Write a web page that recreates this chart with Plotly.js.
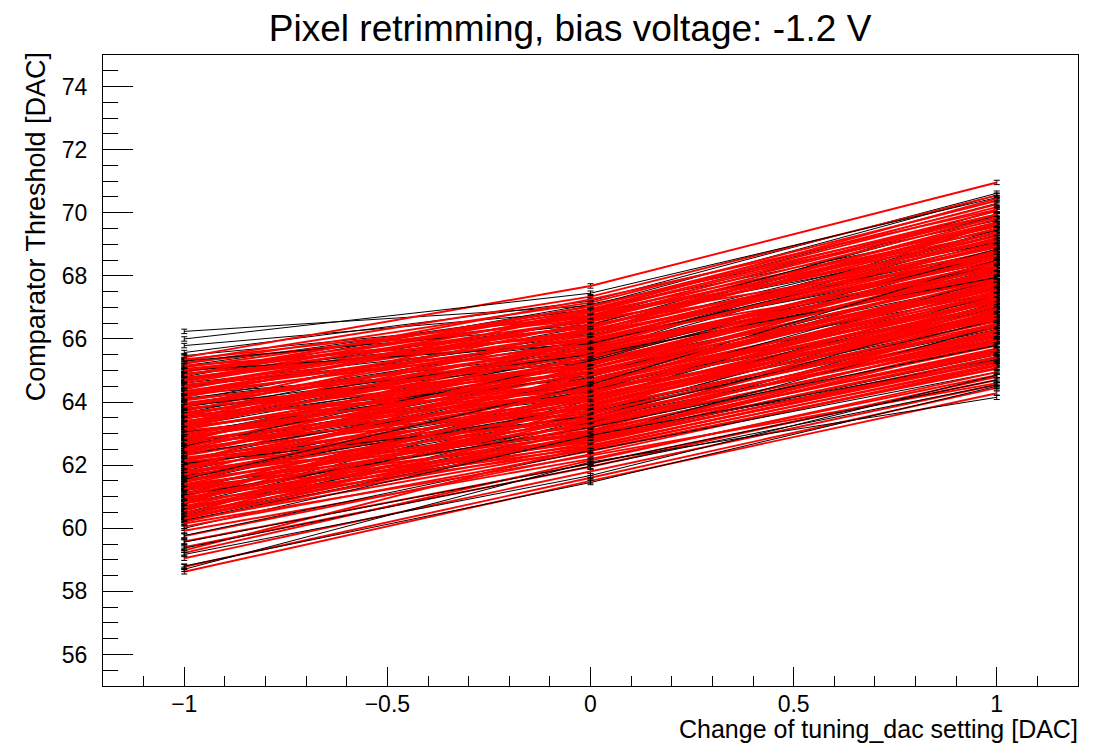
<!DOCTYPE html>
<html>
<head>
<meta charset="utf-8">
<script src="https://cdn.plot.ly/plotly-3.0.1.min.js"></script>
<style>html,body{margin:0;padding:0;background:#fff;}#chart{width:1107px;height:743px;}</style>
</head>
<body>
<div id="chart"></div>
<script>
// tuning_dac change settings (x positions of every pixel scan)
const dacSteps = [-1, 0, 1];

// Thresholds per pixel [at -1, 0, +1], after retrimming (red)
const redPixels = [
[65.42,67.68,70.96],[65.30,67.34,70.55],[65.21,67.15,70.38],[64.95,67.02,70.27],[65.10,66.88,70.05],
[64.70,66.95,70.18],[65.25,66.62,69.64],[64.86,66.75,69.92],[64.52,66.58,69.70],[64.98,66.40,69.35],
[64.33,66.47,69.58],[64.77,66.21,69.12],[64.60,66.83,69.44],[64.18,66.05,69.27],[64.45,66.30,68.91],
[63.92,66.12,69.03],[64.27,65.84,68.75],[63.85,65.96,68.96],[64.05,65.71,68.49],[63.61,65.88,68.82],
[63.97,65.52,68.33],[63.48,65.63,68.61],[63.77,65.45,68.70],[63.30,65.58,68.24],[63.66,65.24,68.05],
[63.12,65.37,68.42],[63.55,65.09,67.93],[62.98,65.18,68.18],[63.40,64.97,67.76],[62.85,65.06,67.99],
[63.21,64.83,67.58],[62.71,64.92,67.84],[63.05,64.66,67.40],[62.60,64.74,67.67],[62.91,64.52,67.22],
[62.44,64.61,67.51],[62.78,64.38,67.05],[62.30,64.47,67.34],[62.65,64.21,66.92],[62.17,64.33,67.18],
[62.52,64.08,66.77],[62.03,64.19,67.02],[62.38,63.93,66.63],[61.88,64.04,66.85],[62.24,63.79,66.48],
[61.75,63.90,66.71],[62.09,63.66,66.35],[61.61,63.74,66.56],[61.95,63.52,66.20],[61.47,63.61,66.42],
[61.82,63.37,66.07],[61.33,63.46,66.27],[61.68,63.24,65.93],[61.19,63.32,66.13],[61.54,63.10,65.79],
[61.05,63.18,65.98],[61.40,62.97,65.65],[60.91,63.05,65.84],[61.26,62.85,65.52],[60.78,62.93,65.70],
[61.12,62.74,65.40],[60.64,62.81,65.57],[60.98,62.63,65.28],[60.50,62.70,65.44],[60.84,62.55,65.17],
[60.36,62.61,65.32],[60.70,62.47,65.08],[60.25,62.52,65.22],
[65.05,66.35,69.80],[64.40,66.90,70.45],[63.70,66.55,69.15],[64.90,65.95,68.60],[63.20,65.90,69.40],
[64.10,65.30,68.10],[62.80,65.40,68.80],[63.95,64.90,67.60],[62.40,65.10,68.30],[63.50,64.60,67.20],
[61.90,64.70,67.90],[63.10,64.20,66.80],[61.50,64.30,67.60],[62.70,63.80,66.40],[61.10,63.90,67.20],
[62.20,63.40,66.00],[60.70,63.50,66.90],[61.80,63.00,65.60],[60.40,63.10,66.50],[61.30,62.80,65.30],
[60.20,62.90,66.10],[60.95,62.75,65.90],[64.65,67.05,69.95],[64.20,66.65,69.85],[63.35,66.25,69.60],
[62.55,65.75,69.00],[61.70,65.20,68.40],[60.90,64.60,67.80],[60.45,64.00,67.10],[65.15,66.10,68.90],
[64.55,65.65,68.40],[63.80,65.10,67.95],[63.00,64.45,67.45],[62.15,63.85,66.95],[61.35,63.30,66.45],
[60.60,62.85,65.95],[60.30,63.40,66.70],[62.90,65.65,68.55],[64.35,66.00,68.20],[61.25,64.10,67.30],
[63.60,64.35,66.60],[60.85,63.70,67.50],[62.35,64.95,68.05],[64.75,66.60,68.70],[61.60,64.50,68.20],
[63.25,65.75,67.85],
[65.35,66.75,69.25],[64.85,67.25,70.10],[64.15,66.85,69.95],[63.45,66.35,69.50],[62.75,65.95,69.20],
[62.10,65.50,68.75],[61.45,64.95,68.30],[60.80,64.40,67.70],[60.35,63.85,67.05],[64.50,66.45,68.60],
[63.90,65.80,68.10],[63.15,65.25,67.55],[62.45,64.70,67.15],[61.70,64.15,66.65],[60.95,63.55,66.15],
[60.30,63.00,65.65],[65.00,66.70,69.10],[64.30,66.20,68.65],[63.60,65.60,68.25],[62.85,65.00,67.70],
[62.15,64.45,67.25],[61.40,63.85,66.75],[60.65,63.25,66.25],[61.95,64.85,67.75],[63.30,66.00,68.95],
[64.70,66.25,69.65],[62.50,65.25,68.45],[61.00,64.25,67.40],[60.55,63.95,66.95],[63.85,66.70,69.35],
[60.05,62.45,65.05],[59.92,62.20,64.85],[59.75,62.35,65.15],[59.58,62.05,64.70],[59.40,61.95,64.80],
[59.22,62.15,64.95],[59.05,61.80,64.55],[58.78,61.60,64.45],[58.62,61.50,64.28],[59.30,62.60,65.40],
[60.15,62.30,64.60]
];

// Thresholds per pixel [at -1, 0, +1], before retrimming (black)
const blackPixels = [
[66.24,67.05,70.55],[66.00,67.45,70.48],[65.79,66.90,70.30],[65.57,67.20,70.62],[65.47,66.70,70.05],
[65.30,66.45,69.90],[65.15,66.95,69.55],[64.90,66.20,69.30],[64.72,66.55,69.05],[64.50,65.90,69.45],
[64.31,66.15,68.80],[64.12,65.60,69.10],[63.95,65.95,68.55],[63.74,65.35,68.85],[63.58,65.70,68.30],
[63.40,65.15,68.65],[63.22,65.45,68.05],[63.05,64.85,68.40],[62.87,65.20,67.80],[62.70,64.60,68.15],
[62.52,64.95,67.55],[62.35,64.35,67.90],[62.18,64.70,67.30],[62.00,64.10,67.65],[61.82,64.45,67.05],
[61.65,63.85,67.40],[61.47,64.20,66.80],[61.30,63.60,67.15],[61.12,63.95,66.55],[60.95,63.35,66.90],
[60.77,63.70,66.30],[60.60,63.10,66.65],[60.42,63.45,66.05],[60.25,62.90,66.40],[64.80,67.10,69.75],
[64.05,66.40,69.60],[63.30,65.80,69.20],[62.60,65.30,68.70],[61.90,64.80,68.10],[61.20,64.25,67.60],
[60.50,63.65,67.00],[65.00,65.85,68.95],[64.25,65.25,68.20],[63.50,64.75,67.70],[62.75,64.15,67.10],
[62.05,63.55,66.60],[61.35,63.05,66.00],[60.65,62.80,65.50],[64.60,66.00,68.45],[63.85,65.50,67.95],
[63.15,64.95,67.45],[62.45,64.40,66.95],[61.75,63.75,66.35],[61.05,63.20,65.80],[60.35,62.95,65.25],
[63.65,66.20,70.10],[62.95,65.55,69.65],[61.55,64.55,68.50],[60.80,64.05,67.95],
[60.00,62.94,65.35],[59.77,62.46,64.95],[59.56,62.05,64.70],[59.37,61.95,64.55],[59.17,61.67,64.85],
[58.80,61.45,64.50],[58.70,62.10,64.15]
];

const titleText = 'Pixel retrimming, bias voltage: -1.2 V';
const xTitleText = 'Change of tuning_dac setting [DAC]';
const yTitleText = 'Comparator Threshold [DAC]';

function makeTrace(vals, color, w) {
  return {
    type: 'scatter', mode: 'lines', x: dacSteps, y: vals,
    line: {color: color, width: w},
    error_y: {type: 'constant', value: 0.07, width: 3, thickness: 1, color: 'black'},
    showlegend: false, hoverinfo: 'skip'
  };
}

// most black lines underneath, some drawn over the red band
const traces = [];
const blackOnTop = [];
blackPixels.forEach((v, i) => {
  if (i % 4 === 1 || i >= 59) blackOnTop.push(v); else traces.push(makeTrace(v, '#000000', 1));
});
let bi = 0;
redPixels.forEach((v, i) => {
  traces.push(makeTrace(v, '#ff0000', 1.9));
  if (i % 9 === 4 && bi < blackOnTop.length) { traces.push(makeTrace(blackOnTop[bi], '#000000', 1)); bi++; }
});
while (bi < blackOnTop.length) { traces.push(makeTrace(blackOnTop[bi], '#000000', 1)); bi++; }

const font = 'Liberation Sans, Arial, Helvetica, sans-serif';
const layout = {
  width: 1107, height: 743,
  margin: {l: 103, r: 29, t: 55, b: 57},
  paper_bgcolor: '#fff', plot_bgcolor: '#fff',
  font: {family: font, color: '#000'},
  title: {text: titleText, font: {family: font, size: 37, color: '#000'},
          x: 0.515, xref: 'container', xanchor: 'center', y: 0.962, yref: 'container', yanchor: 'middle'},
  xaxis: {
    range: [-1.2, 1.2], tickvals: [-1, -0.5, 0, 0.5, 1], ticktext: ['\u22121', '\u22120.5', '0', '0.5', '1'],
    ticks: 'inside', ticklen: 19, tickwidth: 1, tickcolor: '#000', ticklabelstandoff: -3,
    minor: {dtick: 0.1, tick0: 0, ticks: 'inside', ticklen: 10, tickwidth: 1, tickcolor: '#000', showgrid: false},
    showline: true, mirror: true, linecolor: '#000', linewidth: 1,
    showgrid: false, zeroline: false, tickfont: {family: font, size: 23, color: '#000'}
  },
  yaxis: {
    range: [55, 75], dtick: 2, tick0: 0,
    ticks: 'inside', ticklen: 30, tickwidth: 1, tickcolor: '#000',
    minor: {dtick: 0.5, tick0: 0, ticks: 'inside', ticklen: 15, tickwidth: 1, tickcolor: '#000', showgrid: false},
    showline: true, mirror: true, linecolor: '#000', linewidth: 1,
    showgrid: false, zeroline: false, ticklabelstandoff: 10,
    tickfont: {family: font, size: 23, color: '#000'}
  },
  annotations: [
    {text: xTitleText, xref: 'paper', yref: 'paper', x: 1.002, y: -0.094, xanchor: 'right', yanchor: 'bottom',
     showarrow: false, font: {family: font, size: 25, color: '#000'}},
    {text: yTitleText, xref: 'paper', yref: 'paper', x: -0.068, y: 1.008, xanchor: 'center', yanchor: 'top',
     textangle: -90, showarrow: false, font: {family: font, size: 27, color: '#000'}}
  ]
};

Plotly.newPlot('chart', traces, layout, {staticPlot: true, displayModeBar: false});
</script>
</body>
</html>
